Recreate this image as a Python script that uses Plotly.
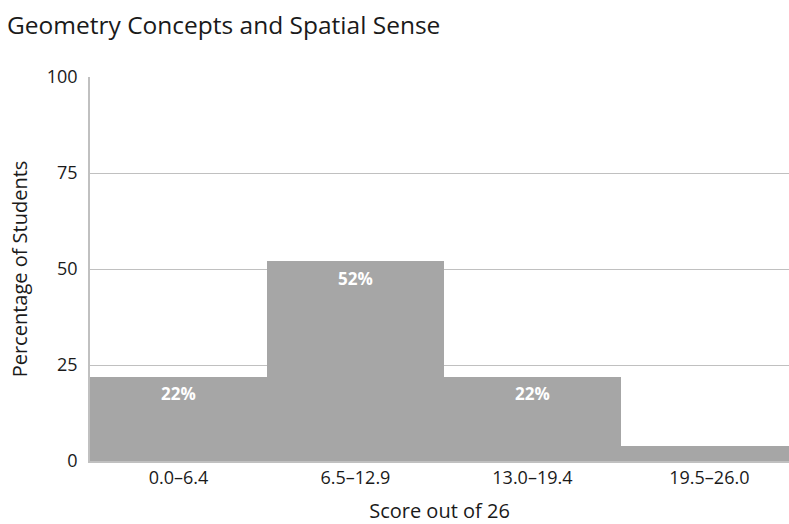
import plotly.graph_objects as go

categories = ["0.0–6.4", "6.5–12.9", "13.0–19.4", "19.5–26.0"]
percentages = [22, 52, 22, 4]
labels = ["22%", "52%", "22%", ""]
y_ticks = [0, 25, 50, 75, 100]

FONT = "Open Sans"
BAR = "#a6a6a6"
GRID = "#c0c0c0"
TXT = "#1a1a1a"

fig = go.Figure()
fig.add_trace(go.Bar(
    x=categories, y=percentages, marker=dict(color=BAR, line=dict(width=0)),
    width=1.0, hoverinfo="skip",
))

for c, v, t in zip(categories, percentages, labels):
    if t:
        fig.add_annotation(x=c, y=v, text="<b>" + t + "</b>", showarrow=False,
                           yshift=-17, font=dict(family=FONT, size=17, color="white"))

fig.update_layout(
    width=789, height=524,
    margin=dict(l=90, r=0, t=77, b=63, autoexpand=False),
    plot_bgcolor="white", paper_bgcolor="white",
    bargap=0,
    showlegend=False,
    title=dict(text="Geometry Concepts and Spatial Sense", x=7/789, xanchor="left",
               xref="container", y=1 - 25/524, yanchor="middle", yref="container",
               font=dict(family=FONT, size=24.5, color=TXT)),
    font=dict(family=FONT, color=TXT),
)
fig.update_xaxes(
    type="category", range=[-0.5, 3.45],
    showline=True, linecolor=GRID, linewidth=1.5,
    showgrid=False, ticks="", tickfont=dict(size=18, family=FONT, color=TXT),
    title=dict(text="Score out of 26", font=dict(size=20, family=FONT, color=TXT), standoff=18),
)
fig.update_yaxes(
    range=[0, 100], tickvals=y_ticks, ticktext=[str(v) for v in y_ticks],
    showline=True, linecolor=GRID, linewidth=1.5,
    showgrid=True, gridcolor=GRID, gridwidth=1.2, zeroline=False,
    ticks="", ticklabelstandoff=7,
    tickfont=dict(size=18, family=FONT, color=TXT),
    title=dict(text="Percentage of Students", font=dict(size=20, family=FONT, color=TXT), standoff=14),
)

fig.write_html("out.html", config={"displayModeBar": False},
               post_script="document.body.style.margin='0px';")
